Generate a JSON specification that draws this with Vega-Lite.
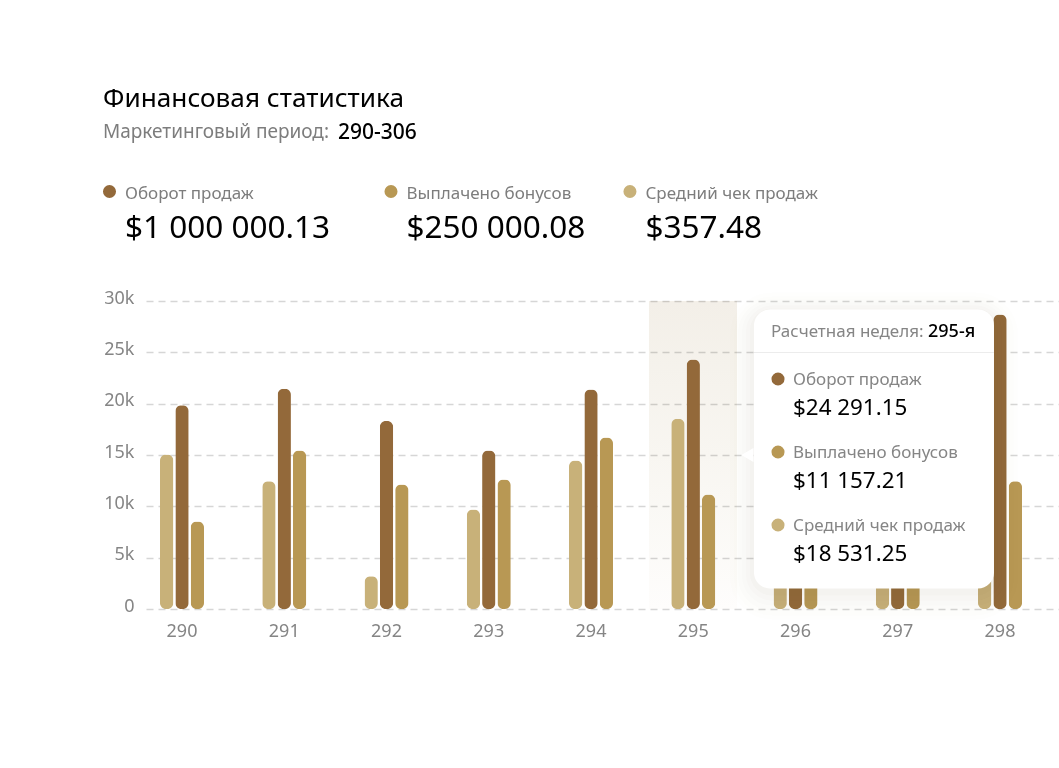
{
  "$schema": "https://vega.github.io/schema/vega-lite/v6.json",
  "description": "Финансовая статистика",
  "width": 913,
  "height": 308,
  "autosize": {"type": "none"},
  "padding": {"left": 146, "top": 301, "right": 0, "bottom": 159},
  "background": "#ffffff",
  "config": {
    "view": {"stroke": null},
    "font": "Noto Sans",
    "text": {"font": "Noto Sans"}
  },
  "title": {
    "text": "Финансовая статистика",
    "subtitle": "Маркетинговый период:",
    "anchor": "start",
    "frame": "group",
    "dx": -43,
    "offset": -20,
    "font": "Noto Sans",
    "fontSize": 26.2,
    "fontWeight": 400,
    "color": "#000000",
    "subtitleFont": "Noto Sans",
    "subtitleFontSize": 19,
    "subtitleColor": "#7d7d7d",
    "subtitlePadding": 10
  },
  "datasets": {
    "bars": [
      {"week": 290, "series": "Средний чек продаж", "value": 15050},
      {"week": 290, "series": "Оборот продаж", "value": 19850},
      {"week": 290, "series": "Выплачено бонусов", "value": 8520},
      {"week": 291, "series": "Средний чек продаж", "value": 12450},
      {"week": 291, "series": "Оборот продаж", "value": 21450},
      {"week": 291, "series": "Выплачено бонусов", "value": 15440},
      {"week": 292, "series": "Средний чек продаж", "value": 3200},
      {"week": 292, "series": "Оборот продаж", "value": 18300},
      {"week": 292, "series": "Выплачено бонусов", "value": 12130},
      {"week": 293, "series": "Средний чек продаж", "value": 9690},
      {"week": 293, "series": "Оборот продаж", "value": 15440},
      {"week": 293, "series": "Выплачено бонусов", "value": 12610},
      {"week": 294, "series": "Средний чек продаж", "value": 14460},
      {"week": 294, "series": "Оборот продаж", "value": 21380},
      {"week": 294, "series": "Выплачено бонусов", "value": 16700},
      {"week": 295, "series": "Средний чек продаж", "value": 18531},
      {"week": 295, "series": "Оборот продаж", "value": 24291},
      {"week": 295, "series": "Выплачено бонусов", "value": 11157},
      {"week": 296, "series": "Средний чек продаж", "value": 9000},
      {"week": 296, "series": "Оборот продаж", "value": 13000},
      {"week": 296, "series": "Выплачено бонусов", "value": 7000},
      {"week": 297, "series": "Средний чек продаж", "value": 8000},
      {"week": 297, "series": "Оборот продаж", "value": 15000},
      {"week": 297, "series": "Выплачено бонусов", "value": 10000},
      {"week": 298, "series": "Средний чек продаж", "value": 11000},
      {"week": 298, "series": "Оборот продаж", "value": 28680},
      {"week": 298, "series": "Выплачено бонусов", "value": 12450}
    ],
    "kpi": [
      {"series": "Оборот продаж", "total": "$1 000 000.13"},
      {"series": "Выплачено бонусов", "total": "$250 000.08"},
      {"series": "Средний чек продаж", "total": "$357.48"}
    ],
    "tip": [
      {"series": "Оборот продаж", "amount": "$24 291.15"},
      {"series": "Выплачено бонусов", "amount": "$11 157.21"},
      {"series": "Средний чек продаж", "amount": "$18 531.25"}
    ]
  },
  "layer": [
    {
      "data": {"values": [{"week": 295}]},
      "mark": {
        "type": "rect",
        "blend": "multiply",
        "color": {
          "gradient": "linear", "x1": 0, "y1": 0, "x2": 0, "y2": 1,
          "stops": [{"offset": 0, "color": "#f3efe8"}, {"offset": 0.5, "color": "#f8f6f1"}, {"offset": 1, "color": "#fefdfc"}]
        }
      },
      "encoding": {
        "x": {"datum": 294.567, "type": "quantitative", "scale": {"domain": [289.648, 298.577], "nice": false, "zero": false}, "axis": null},
        "x2": {"datum": 295.428},
        "y": {"datum": 30000, "type": "quantitative", "scale": {"domain": [0, 30000], "nice": false}, "axis": null},
        "y2": {"datum": 0}
      }
    },
    {
      "data": {"name": "bars"},
      "mark": {"type": "bar", "cornerRadius": 6},
      "encoding": {
        "x": {
          "field": "week", "type": "ordinal",
          "scale": {"domain": [290, 291, 292, 293, 294, 295, 296, 297, 298], "range": [0, 913], "paddingInner": 0.296, "paddingOuter": 0.1125, "align": 0},
          "axis": {
            "title": null, "domain": false, "ticks": false, "labelAngle": 0, "labelFontSize": 18,
            "labelColor": "#858585", "labelPadding": 13, "labelFont": "Noto Sans"
          }
        },
        "xOffset": {
          "field": "series", "type": "nominal",
          "scale": {"domain": ["Средний чек продаж", "Оборот продаж", "Выплачено бонусов"], "range": [14, 58], "paddingInner": 0.13, "paddingOuter": 0}
        },
        "y": {
          "field": "value", "type": "quantitative",
          "scale": {"domain": [0, 30000], "nice": false},
          "axis": {
            "title": null, "values": [0, 5000, 10000, 15000, 20000, 25000, 30000],
            "labelExpr": "datum.value === 0 ? '0' : datum.value / 1000 + 'k'", "domain": false, "ticks": false,
            "labelFontSize": 18, "labelColor": "#858585", "labelPadding": 12, "labelFont": "Noto Sans", "labelOffset": -3,
            "grid": true, "gridColor": "#d6d6d6", "gridDash": [7, 5], "gridWidth": 1.5
          }
        },
        "color": {
          "field": "series", "type": "nominal", "legend": null,
          "scale": {"domain": ["Оборот продаж", "Выплачено бонусов", "Средний чек продаж"], "range": ["#93693a", "#b89854", "#c8b179"]}
        }
      }
    },
    {
      "data": {"values": [{"card": "tooltip"}]},
      "encoding": {
        "x": {"datum": 295.594, "type": "quantitative", "scale": {"domain": [289.648, 298.577], "nice": false, "zero": false}, "axis": null},
        "y": {"datum": 29170, "type": "quantitative", "scale": {"domain": [0, 30000], "nice": false}, "axis": null}
      },
      "layer": [
        {"mark": {"type": "rect", "fillOpacity": 0, "stroke": "#7a5c34", "strokeOpacity": 0.008, "strokeWidth": 48, "cornerRadius": 18, "yOffset": 7, "y2Offset": 7},
         "encoding": {"x2": {"datum": 297.941}, "y2": {"datum": 2000}}},
        {"mark": {"type": "rect", "fillOpacity": 0, "stroke": "#7a5c34", "strokeOpacity": 0.008, "strokeWidth": 40, "cornerRadius": 18, "yOffset": 7, "y2Offset": 7},
         "encoding": {"x2": {"datum": 297.941}, "y2": {"datum": 2000}}},
        {"mark": {"type": "rect", "fillOpacity": 0, "stroke": "#7a5c34", "strokeOpacity": 0.01, "strokeWidth": 32, "cornerRadius": 18, "yOffset": 6, "y2Offset": 6},
         "encoding": {"x2": {"datum": 297.941}, "y2": {"datum": 2000}}},
        {"mark": {"type": "rect", "fillOpacity": 0, "stroke": "#7a5c34", "strokeOpacity": 0.012, "strokeWidth": 24, "cornerRadius": 18, "yOffset": 5, "y2Offset": 5},
         "encoding": {"x2": {"datum": 297.941}, "y2": {"datum": 2000}}},
        {"mark": {"type": "rect", "fillOpacity": 0, "stroke": "#7a5c34", "strokeOpacity": 0.015, "strokeWidth": 16, "cornerRadius": 18, "yOffset": 4, "y2Offset": 4},
         "encoding": {"x2": {"datum": 297.941}, "y2": {"datum": 2000}}},
        {"mark": {"type": "rect", "fillOpacity": 0, "stroke": "#7a5c34", "strokeOpacity": 0.02, "strokeWidth": 8, "cornerRadius": 18, "yOffset": 3, "y2Offset": 3},
         "encoding": {"x2": {"datum": 297.941}, "y2": {"datum": 2000}}},
        {"mark": {"type": "rect", "fill": "#ffffff", "cornerRadius": 16},
         "encoding": {"x2": {"datum": 297.941}, "y2": {"datum": 2000}}},
        {"mark": {"type": "point", "shape": "triangle-left", "filled": true, "fill": "#ffffff", "opacity": 1, "size": 190},
         "encoding": {"x": {"datum": 295.53}, "y": {"datum": 15000}}},
        {"mark": {"type": "rule", "color": "#ececec", "strokeWidth": 1},
         "encoding": {"x2": {"datum": 297.941}, "y": {"datum": 24984}}},
        {"mark": {"type": "text", "align": "left", "baseline": "middle", "fontSize": 17, "color": "#858585", "text": "Расчетная неделя:"},
         "encoding": {"x": {"datum": 295.76}, "y": {"datum": 26950}}},
        {"mark": {"type": "text", "align": "left", "baseline": "middle", "fontSize": 18, "fontWeight": 500, "color": "#000000", "text": "295-я"},
         "encoding": {"x": {"datum": 297.296}, "y": {"datum": 26950}}},
        {"mark": {"type": "text", "align": "left", "baseline": "middle", "fontSize": 21, "fontWeight": 500, "color": "#000000", "text": "290-306"},
         "encoding": {"x": {"datum": 291.526}, "y": {"datum": 46412}}},
        {
          "data": {"name": "kpi"},
          "transform": [{"filter": "datum.series === 'Оборот продаж'"}],
          "encoding": {"x": {"datum": 289.291}, "y": {"datum": 40665}},
          "layer": [
            {"mark": {"type": "circle", "size": 170, "opacity": 1}, "encoding": {"color": {"field": "series", "type": "nominal"}}},
            {"mark": {"type": "text", "align": "left", "baseline": "middle", "dx": 15.5, "dy": 2, "fontSize": 17, "color": "#7d7d7d"}, "encoding": {"text": {"field": "series"}}},
            {"mark": {"type": "text", "align": "left", "baseline": "middle", "dx": 15.5, "dy": 37, "fontSize": 31.5, "fontWeight": 400, "color": "#000000"}, "encoding": {"text": {"field": "total"}}}
          ]
        },
        {
          "data": {"name": "kpi"},
          "transform": [{"filter": "datum.series === 'Выплачено бонусов'"}],
          "encoding": {"x": {"datum": 292.044}, "y": {"datum": 40665}},
          "layer": [
            {"mark": {"type": "circle", "size": 170, "opacity": 1}, "encoding": {"color": {"field": "series", "type": "nominal"}}},
            {"mark": {"type": "text", "align": "left", "baseline": "middle", "dx": 15.5, "dy": 2, "fontSize": 17, "color": "#7d7d7d"}, "encoding": {"text": {"field": "series"}}},
            {"mark": {"type": "text", "align": "left", "baseline": "middle", "dx": 15.5, "dy": 37, "fontSize": 31.5, "fontWeight": 400, "color": "#000000"}, "encoding": {"text": {"field": "total"}}}
          ]
        },
        {
          "data": {"name": "kpi"},
          "transform": [{"filter": "datum.series === 'Средний чек продаж'"}],
          "encoding": {"x": {"datum": 294.381}, "y": {"datum": 40665}},
          "layer": [
            {"mark": {"type": "circle", "size": 170, "opacity": 1}, "encoding": {"color": {"field": "series", "type": "nominal"}}},
            {"mark": {"type": "text", "align": "left", "baseline": "middle", "dx": 15.5, "dy": 2, "fontSize": 17, "color": "#7d7d7d"}, "encoding": {"text": {"field": "series"}}},
            {"mark": {"type": "text", "align": "left", "baseline": "middle", "dx": 15.5, "dy": 37, "fontSize": 31.5, "fontWeight": 400, "color": "#000000"}, "encoding": {"text": {"field": "total"}}}
          ]
        }
      ]
    },
    {
      "data": {"name": "tip"},
      "encoding": {
        "x": {"datum": 295.829, "type": "quantitative", "scale": {"domain": [289.648, 298.577], "nice": false, "zero": false}, "axis": null},
        "y": {"field": "series", "type": "nominal", "sort": null, "scale": {"type": "point", "domain": ["Оборот продаж", "Выплачено бонусов", "Средний чек продаж"], "range": [78, 224], "padding": 0}, "axis": null}
      },
      "layer": [
        {"mark": {"type": "circle", "size": 170, "opacity": 1}, "encoding": {"color": {"field": "series", "type": "nominal"}}},
        {"mark": {"type": "text", "align": "left", "baseline": "middle", "dx": 15, "dy": 1, "fontSize": 17, "color": "#858585"}, "encoding": {"text": {"field": "series"}}},
        {"mark": {"type": "text", "align": "left", "baseline": "middle", "dx": 15, "dy": 29, "fontSize": 22.4, "fontWeight": 400, "color": "#000000"}, "encoding": {"text": {"field": "amount"}}}
      ]
    }
  ],
  "resolve": {"scale": {"x": "independent", "y": "independent"}}
}
